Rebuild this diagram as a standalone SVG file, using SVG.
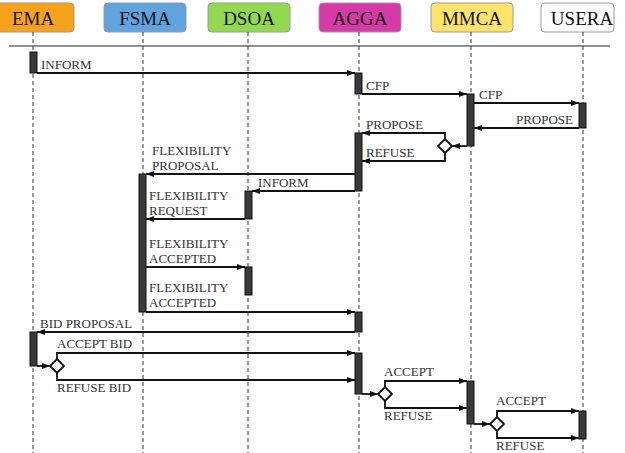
<svg xmlns="http://www.w3.org/2000/svg" width="625" height="453" viewBox="0 0 625 453">
<style>
.hdr{stroke:#9a9a9a;stroke-width:1}
.ht{font-family:"Liberation Serif",serif;font-size:19px;fill:#111;text-anchor:middle}
.life{stroke:#333;stroke-width:1;stroke-dasharray:4 3;fill:none}
.act{fill:#3a3a3a;stroke:#111;stroke-width:1}
.msg{stroke:#111;stroke-width:1.8;fill:none}
.arr{marker-end:url(#ah)}
.dia{fill:#fff;stroke:#111;stroke-width:1.8}
.lbl{font-family:"Liberation Serif",serif;font-size:13px;fill:#333}
</style>
<defs>
<marker id="ah" markerUnits="userSpaceOnUse" markerWidth="8" markerHeight="6" refX="8" refY="3" orient="auto">
<path d="M0,0 L8,3 L0,6 z" fill="#111"/>
</marker>
</defs>
<rect width="625" height="453" fill="#fff"/>
<line x1="9" y1="46" x2="610" y2="46" stroke="#222" stroke-width="1"/>

<g id="EMA">
<rect class="hdr" x="-8" y="3" width="82" height="29" rx="4" fill="#F7A21B"/>
<text class="ht" x="33" y="25">EMA</text>
<line class="life" x1="33" y1="32" x2="33" y2="453"/>
<rect class="act" x="30" y="52" width="7" height="21"/>
<rect class="act" x="30" y="332" width="7" height="34"/>
</g>
<g id="FSMA">
<rect class="hdr" x="104" y="3" width="82" height="29" rx="4" fill="#5FA3DF"/>
<text class="ht" x="145" y="25">FSMA</text>
<line class="life" x1="143" y1="32" x2="143" y2="453"/>
<rect class="act" x="139" y="174" width="7" height="138"/>
</g>
<g id="DSOA">
<rect class="hdr" x="208" y="3" width="82" height="29" rx="4" fill="#93D94F"/>
<text class="ht" x="249" y="25">DSOA</text>
<line class="life" x1="248" y1="32" x2="248" y2="453"/>
<rect class="act" x="245" y="191" width="7" height="28"/>
<rect class="act" x="245" y="267" width="7" height="28"/>
</g>
<g id="AGGA">
<rect class="hdr" x="319" y="3" width="82" height="29" rx="4" fill="#D63AA8"/>
<text class="ht" x="360" y="25">AGGA</text>
<line class="life" x1="359" y1="32" x2="359" y2="453"/>
<rect class="act" x="355" y="73" width="7" height="21"/>
<rect class="act" x="355" y="133" width="7" height="58"/>
<rect class="act" x="355" y="312" width="7" height="20"/>
<rect class="act" x="355" y="353" width="7" height="41"/>
</g>
<g id="MMCA">
<rect class="hdr" x="431" y="3" width="82" height="29" rx="4" fill="#FFE36A"/>
<text class="ht" x="472" y="25">MMCA</text>
<line class="life" x1="471" y1="32" x2="471" y2="453"/>
<rect class="act" x="467" y="94" width="7" height="52"/>
<rect class="act" x="467" y="381" width="7" height="43"/>
</g>
<g id="USERA">
<rect class="hdr" x="541" y="3" width="73" height="29" rx="4" fill="#fff"/>
<text class="ht" x="582" y="25">USERA</text>
<line class="life" x1="583" y1="32" x2="583" y2="453"/>
<rect class="act" x="579" y="103" width="7" height="25"/>
<rect class="act" x="579" y="411" width="7" height="28"/>
</g>

<g id="connectors">
<path class="msg arr" d="M37,73 H355"/>
<path class="msg arr" d="M362,94 H467"/>
<path class="msg arr" d="M474,103 H579"/>
<path class="msg arr" d="M579,128 H474"/>
<path class="msg arr" d="M467,146 H452"/>
<path class="msg arr" d="M445,139 V133 H362"/>
<path class="msg arr" d="M445,153 V161 H362"/>
<polygon class="dia" points="445,139 452,146 445,153 438,146"/>
<path class="msg arr" d="M355,174 H146"/>
<path class="msg arr" d="M355,191 H252"/>
<path class="msg arr" d="M245,219 H146"/>
<path class="msg arr" d="M146,267 H245"/>
<path class="msg arr" d="M146,312 H355"/>
<path class="msg arr" d="M355,332 H37"/>
<path class="msg arr" d="M37,366 H50"/>
<path class="msg arr" d="M57,359 V353 H355"/>
<path class="msg arr" d="M57,373 V380 H355"/>
<polygon class="dia" points="57,359 64,366 57,373 50,366"/>
<path class="msg arr" d="M362,394 H378"/>
<path class="msg arr" d="M385,387 V381 H467"/>
<path class="msg arr" d="M385,401 V408 H467"/>
<polygon class="dia" points="385,387 392,394 385,401 378,394"/>
<path class="msg arr" d="M474,424 H490"/>
<path class="msg arr" d="M497,417 V411 H579"/>
<path class="msg arr" d="M497,431 V438 H579"/>
<polygon class="dia" points="497,417 504,424 497,431 490,424"/>
</g>

<g id="labels">
<text class="lbl" x="41" y="69">INFORM</text>
<text class="lbl" x="366" y="90">CFP</text>
<text class="lbl" x="479" y="99">CFP</text>
<text class="lbl" x="573" y="124" text-anchor="end">PROPOSE</text>
<text class="lbl" x="366" y="129">PROPOSE</text>
<text class="lbl" x="366" y="157">REFUSE</text>
<text class="lbl" x="152" y="155">FLEXIBILITY</text>
<text class="lbl" x="152" y="170">PROPOSAL</text>
<text class="lbl" x="258" y="187">INFORM</text>
<text class="lbl" x="149" y="200">FLEXIBILITY</text>
<text class="lbl" x="149" y="215">REQUEST</text>
<text class="lbl" x="149" y="248">FLEXIBILITY</text>
<text class="lbl" x="149" y="263">ACCEPTED</text>
<text class="lbl" x="149" y="292">FLEXIBILITY</text>
<text class="lbl" x="149" y="307">ACCEPTED</text>
<text class="lbl" x="40" y="328">BID PROPOSAL</text>
<text class="lbl" x="57" y="348">ACCEPT BID</text>
<text class="lbl" x="57" y="392">REFUSE BID</text>
<text class="lbl" x="384" y="376">ACCEPT</text>
<text class="lbl" x="384" y="420">REFUSE</text>
<text class="lbl" x="496" y="405">ACCEPT</text>
<text class="lbl" x="496" y="450">REFUSE</text>
</g>
</svg>
